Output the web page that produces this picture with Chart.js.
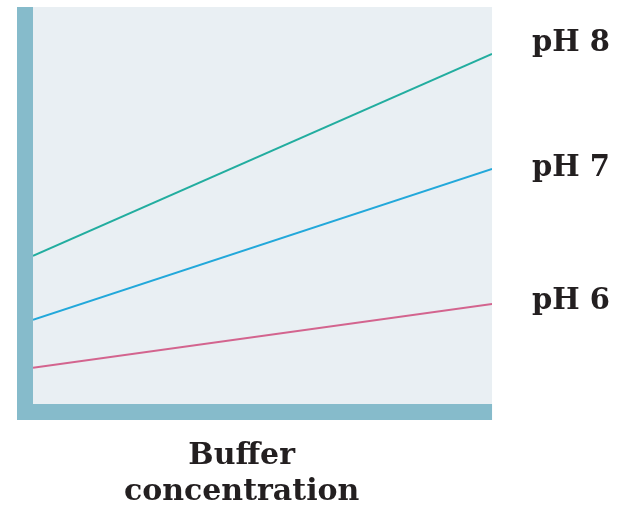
<!DOCTYPE html>
<html>
<head>
<meta charset="utf-8">
<script src="https://cdn.jsdelivr.net/npm/chart.js@4"></script>
<style>
  body { margin: 0; background: #ffffff; }
</style>
</head>
<body>
<canvas id="bufferChart" width="625" height="506"></canvas>
<script>
// x: buffer concentration (arbitrary units), y: rate (arbitrary units)
const concentration = [0, 10];
const ph8 = [37.3, 88.2];
const ph7 = [21.2, 59.2];
const ph6 = [9.1, 25.2];

// where the pH labels sit on the right side
const labelValues = [90.8, 59.3, 25.8];
const labelTexts = ['pH 8', 'pH 7', 'pH 6'];

const barColor = '#86bbcb';
const panelColor = '#e9eff3';
const barSize = 16;

// light panel + thick L-shaped axis bars
const panelPlugin = {
    id: 'panel',
    beforeDatasetsDraw(chart) {
        const { ctx, chartArea } = chart;
        const { left, right, top, bottom } = chartArea;
        ctx.save();
        ctx.fillStyle = panelColor;
        ctx.fillRect(left, top, right - left, bottom - top);
        ctx.fillStyle = barColor;
        ctx.fillRect(left - barSize, top, barSize, bottom - top + barSize);
        ctx.fillRect(left - barSize, bottom, right - left + barSize, barSize);
        ctx.restore();
    }
};

function makeSet(label, values, color) {
    return {
        label: label,
        data: concentration.map((x, i) => ({ x: x, y: values[i] })),
        borderColor: color,
        backgroundColor: color,
        borderWidth: 2,
        pointRadius: 0,
        tension: 0,
        fill: false,
        yAxisID: 'y'
    };
}

new Chart(document.getElementById('bufferChart'), {
    type: 'line',
    data: {
        datasets: [
            makeSet('pH 8', ph8, '#22ad9f'),
            makeSet('pH 7', ph7, '#22a8da'),
            makeSet('pH 6', ph6, '#d3648e')
        ]
    },
    options: {
        responsive: false,
        animation: false,
        layout: { padding: { left: 33, top: 7, right: 15, bottom: 0 } },
        plugins: {
            legend: { display: false },
            tooltip: { enabled: false }
        },
        scales: {
            x: {
                type: 'linear',
                min: 0,
                max: 10,
                grid: { display: false, drawTicks: false },
                border: { display: false },
                ticks: { display: false },
                title: {
                    display: true,
                    // trailing spaces nudge the centred title left, like the original
                    text: ['Buffer    ', 'concentration    '],
                    color: '#231f20',
                    font: { family: 'DejaVu Serif', weight: 'bold', size: 30, lineHeight: '36px' },
                    padding: { top: 34, bottom: -4 }
                }
            },
            y: {
                display: false,
                min: 0,
                max: 100
            },
            y2: {
                position: 'right',
                min: 0,
                max: 100,
                // grid hidden, but tickLength still gives the gap before the labels
                grid: { display: false, drawTicks: true, tickLength: 40 },
                border: { display: false },
                afterBuildTicks: axis => {
                    axis.ticks = labelValues.map(v => ({ value: v }));
                },
                ticks: {
                    padding: 0,
                    autoSkip: false,
                    color: '#231f20',
                    // small lineHeight so the axis doesn't push the plot down
                    font: { family: 'DejaVu Serif', weight: 'bold', size: 29, lineHeight: 0.4 },
                    callback: (value, index) => labelTexts[index]
                }
            }
        }
    },
    plugins: [panelPlugin]
});
</script>
</body>
</html>
